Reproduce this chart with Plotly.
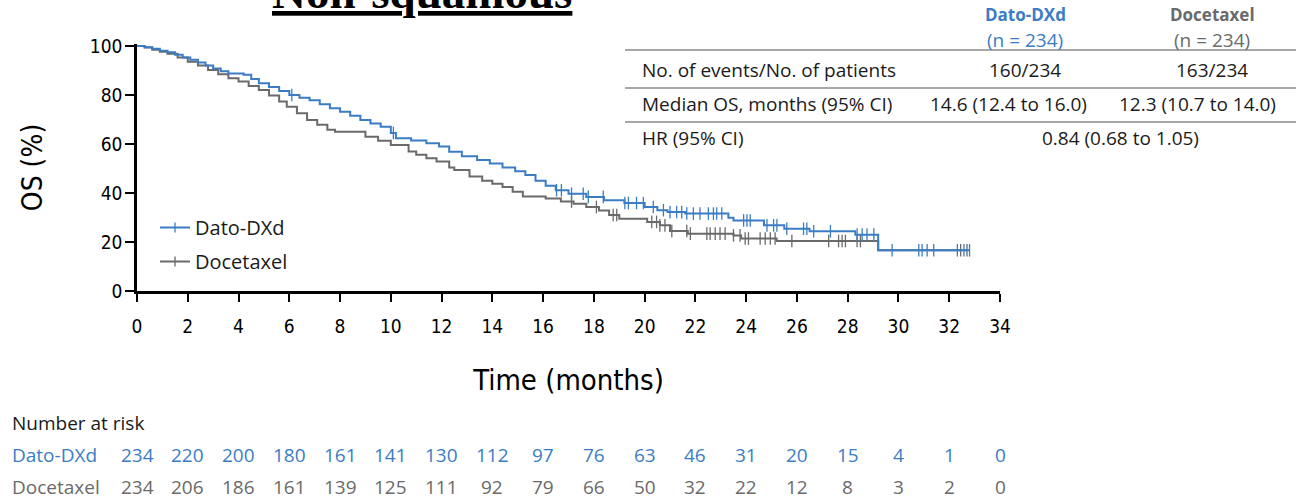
import plotly.graph_objects as go

# ---------------- data ----------------
months = list(range(0, 35, 2))
y_ticks = [0, 20, 40, 60, 80, 100]

dato_time = [0, 0.3, 0.6, 0.9, 1.2, 1.5, 1.8, 2.1, 2.4, 2.7, 3.0, 3.3, 3.6, 4.2, 4.5, 4.8,
             5.2, 5.6, 6.0, 6.4, 6.8, 7.2, 7.6, 8.0, 8.4, 8.8, 9.2, 9.6, 10.0, 10.2, 10.8,
             11.4, 11.9, 12.3, 12.8, 13.4, 13.9, 14.4, 14.9, 15.3, 15.7, 16.1, 16.5, 17.0,
             17.7, 18.4, 19.2, 20.0, 20.5, 20.9, 21.6, 23.3, 23.5, 24.7, 25.5, 26.5, 28.3,
             29.2]
dato_surv = [100, 99.5, 98.9, 98.0, 97.4, 96.4, 95.3, 94.4, 93.2, 92.0, 90.8, 89.7, 88.8,
             88.2, 86.5, 84.8, 83.3, 81.6, 80.0, 78.9, 77.8, 76.2, 74.6, 73.2, 71.5, 69.8,
             68.4, 67.0, 64.5, 62.3, 61.4, 60.3, 59.0, 56.8, 55.0, 53.5, 52.0, 50.4, 48.9,
             47.3, 45.0, 43.0, 41.1, 39.7, 38.4, 37.0, 35.9, 34.3, 33.0, 32.2, 31.6, 29.9,
             28.8, 26.8, 25.4, 24.4, 23.0, 16.6]
dato_end = 32.8

doce_time = [0, 0.3, 0.6, 0.9, 1.2, 1.6, 2.0, 2.4, 2.8, 3.2, 3.6, 4.0, 4.4, 4.8, 5.2, 5.6,
             5.9, 6.3, 6.7, 7.1, 7.5, 7.8, 9.0, 9.5, 10.0, 10.7, 11.0, 11.4, 11.8, 12.3,
             12.5, 13.1, 13.6, 14.0, 14.4, 14.8, 15.2, 16.1, 16.7, 17.2, 17.7, 18.2, 18.6,
             19.0, 20.1, 20.6, 21.0, 21.7, 23.5, 23.8, 25.2, 29.2]
doce_surv = [100, 99.4, 98.5, 97.6, 96.8, 95.3, 93.6, 92.0, 90.2, 88.5, 86.8, 85.5, 83.7,
             82.0, 79.8, 77.3, 75.2, 72.5, 69.8, 67.8, 65.8, 65.0, 63.0, 61.3, 59.6, 56.9,
             55.6, 54.2, 52.8, 50.4, 49.4, 46.7, 45.0, 43.8, 42.4, 40.5, 38.6, 37.7, 36.5,
             35.6, 34.3, 32.9, 31.0, 29.5, 28.2, 26.8, 24.5, 23.4, 22.7, 21.4, 20.4, 16.6]
doce_end = 32.7

dato_censor = [6.1, 10.1, 16.53, 16.72, 17.12, 17.58, 17.78, 18.37, 19.22, 19.36, 19.68,
               19.95, 20.34, 20.74, 21.0, 21.26, 21.46, 21.66, 21.92, 22.18, 22.51, 22.71,
               22.84, 23.04, 23.9, 24.03, 24.16, 24.82, 25.08, 25.21, 25.6, 26.26, 26.39,
               26.66, 27.32, 28.37, 28.57, 28.76, 29.03, 29.75, 30.8, 30.93, 31.13, 31.39,
               32.32, 32.58, 32.8]
doce_censor = [17.12, 18.1, 18.76, 18.9, 20.28, 20.47, 20.6, 20.8, 21.07, 21.66, 21.8,
               22.45, 22.58, 22.78, 22.97, 23.17, 23.5, 23.76, 23.96, 24.09, 24.55, 24.75,
               24.95, 25.14, 25.8, 27.25, 27.64, 27.78, 27.91, 28.37, 28.5, 32.45, 32.7]

risk_dato = [234, 220, 200, 180, 161, 141, 130, 112, 97, 76, 63, 46, 31, 20, 15, 4, 1, 0]
risk_doce = [234, 206, 186, 161, 139, 125, 111, 92, 79, 66, 50, 32, 22, 12, 8, 3, 2, 0]

arm_names = ["Dato-DXd", "Docetaxel"]
arm_n = ["(n = 234)", "(n = 234)"]
row_labels = ["No. of events/No. of patients", "Median OS, months (95% CI)", "HR (95% CI)"]
events = ["160/234", "163/234"]
median_os = ["14.6 (12.4 to 16.0)", "12.3 (10.7 to 14.0)"]
hr_text = "0.84 (0.68 to 1.05)"

# ---------------- style ----------------
BLUE = "#3b7dc4"
GRAY = "#6a6a6a"
AX_FONT = "DejaVu Sans Condensed, Liberation Sans Narrow, Arial Narrow, sans-serif"
TX_FONT = "Open Sans, Liberation Sans, Arial, sans-serif"
TX_SIZE = 19

W, H = 1296, 501
L, R, T, B = 137, 1000, 44, 291


def px_x(px):
    return (px - L) / (R - L)


def px_y(py):
    return (B - py) / (B - T)


def surv_at(times, survs, t):
    val = survs[0]
    for ti, si in zip(times, survs):
        if ti <= t:
            val = si
    return val


fig = go.Figure()

# Docetaxel curve
fig.add_trace(go.Scatter(x=doce_time + [doce_end], y=doce_surv + [doce_surv[-1]],
                         mode="lines", line=dict(color=GRAY, width=2, shape="hv"),
                         showlegend=False, hoverinfo="skip"))
fig.add_trace(go.Scatter(x=doce_censor, y=[surv_at(doce_time, doce_surv, t) for t in doce_censor],
                         mode="markers", showlegend=False, hoverinfo="skip",
                         marker=dict(symbol="line-ns", size=9, line=dict(width=1.3, color=GRAY))))
# Dato-DXd curve
fig.add_trace(go.Scatter(x=dato_time + [dato_end], y=dato_surv + [dato_surv[-1]],
                         mode="lines", line=dict(color=BLUE, width=2, shape="hv"),
                         showlegend=False, hoverinfo="skip"))
fig.add_trace(go.Scatter(x=dato_censor, y=[surv_at(dato_time, dato_surv, t) for t in dato_censor],
                         mode="markers", showlegend=False, hoverinfo="skip",
                         marker=dict(symbol="line-ns", size=9, line=dict(width=1.3, color=BLUE))))

# legend entries
for name, col in zip(arm_names, [BLUE, GRAY]):
    fig.add_trace(go.Scatter(x=[None], y=[None], mode="lines+markers", name=name,
                             legendgroup=name,
                             line=dict(color=col, width=2),
                             marker=dict(symbol="line-ns", size=7, line=dict(width=1.3, color=col))))

annotations = []

# title (partly cut off at the top edge, as in the original)
annotations.append(dict(text="<b><u>Non-squamous</u></b>", x=px_x(422), y=px_y(20),
                        xref="paper", yref="paper", xanchor="center", yanchor="bottom",
                        showarrow=False,
                        font=dict(family="Liberation Serif, Times New Roman, serif", size=47,
                                  color="black")))

# summary table
col_x = [1025, 1212]
for i in range(2):
    annotations.append(dict(text="<b>" + arm_names[i] + "</b>", x=px_x(col_x[i]), y=px_y(15),
                            xref="paper", yref="paper", xanchor="center", yanchor="middle",
                            showarrow=False,
                            font=dict(family=TX_FONT, size=17, color=[BLUE, GRAY][i])))
    annotations.append(dict(text=arm_n[i], x=px_x(col_x[i]), y=px_y(40),
                            xref="paper", yref="paper", xanchor="center", yanchor="middle",
                            showarrow=False,
                            font=dict(family=TX_FONT, size=TX_SIZE, color=[BLUE, GRAY][i])))
    annotations.append(dict(text=events[i], x=px_x(col_x[i]), y=px_y(70),
                            xref="paper", yref="paper", xanchor="center", yanchor="middle",
                            showarrow=False, font=dict(family=TX_FONT, size=TX_SIZE, color="#1a1a1a")))
med_x = [1008, 1197]
for i in range(2):
    annotations.append(dict(text=median_os[i], x=px_x(med_x[i]), y=px_y(104),
                            xref="paper", yref="paper", xanchor="center", yanchor="middle",
                            showarrow=False, font=dict(family=TX_FONT, size=TX_SIZE, color="#1a1a1a")))
annotations.append(dict(text=hr_text, x=px_x(1120), y=px_y(138),
                        xref="paper", yref="paper", xanchor="center", yanchor="middle",
                        showarrow=False, font=dict(family=TX_FONT, size=TX_SIZE, color="#1a1a1a")))
for lbl, py in zip(row_labels, [70, 104, 138]):
    annotations.append(dict(text=lbl, x=px_x(640), y=px_y(py),
                            xref="paper", yref="paper", xanchor="left", yanchor="middle",
                            showarrow=False, font=dict(family=TX_FONT, size=TX_SIZE, color="#1a1a1a")))

shapes = []
for py in [50, 88, 122]:
    shapes.append(dict(type="line", xref="paper", yref="paper",
                       x0=px_x(625), x1=px_x(1296), y0=px_y(py), y1=px_y(py),
                       line=dict(color="#8a8a8a", width=1.5)))

# number at risk
annotations.append(dict(text="Number at risk", x=px_x(10), y=px_y(423), xref="paper", yref="paper",
                        xanchor="left", yanchor="middle", showarrow=False,
                        font=dict(family=TX_FONT, size=TX_SIZE, color="#1a1a1a")))
for name, vals, col, py in [(arm_names[0], risk_dato, BLUE, 455),
                            (arm_names[1], risk_doce, GRAY, 487)]:
    annotations.append(dict(text=name, x=px_x(10), y=px_y(py), xref="paper", yref="paper",
                            xanchor="left", yanchor="middle", showarrow=False,
                            font=dict(family=TX_FONT, size=TX_SIZE, color=col)))
    for m, v in zip(months, vals):
        annotations.append(dict(text=str(v), x=m, y=px_y(py), xref="x", yref="paper",
                                xanchor="center", yanchor="middle", showarrow=False,
                                font=dict(family=TX_FONT, size=TX_SIZE, color=col)))

fig.update_layout(
    width=W, height=H,
    margin=dict(l=L, r=W - R, t=T, b=H - B, pad=0),
    plot_bgcolor="white", paper_bgcolor="white",
    showlegend=True,
    legend=dict(x=px_x(155), y=px_y(208), xanchor="left", yanchor="top",
                bgcolor="rgba(0,0,0,0)", font=dict(family=TX_FONT, size=20, color="#1a1a1a"),
                tracegroupgap=5, itemwidth=30),
    annotations=annotations,
    shapes=shapes,
    xaxis=dict(range=[0, 34], tickvals=months, showline=True, linecolor="black", linewidth=2.5,
               ticks="outside", ticklen=8, tickwidth=2, tickcolor="black",
               showgrid=False, zeroline=False, ticklabelstandoff=8,
               tickfont=dict(family=AX_FONT, size=19, color="black"),
               title=dict(text="Time (months)", standoff=35,
                          font=dict(family=AX_FONT, size=29, color="black"))),
    yaxis=dict(range=[0, 100.8], tickvals=y_ticks, showline=True, linecolor="black", linewidth=2.5,
               ticks="outside", ticklen=9, tickwidth=2, tickcolor="black",
               showgrid=False, zeroline=False, ticklabelstandoff=-1,
               tickfont=dict(family=AX_FONT, size=19, color="black"),
               title=dict(text="OS (%)", standoff=40,
                          font=dict(family=AX_FONT, size=28, color="black"))),
)

fig.write_html("out.html")
